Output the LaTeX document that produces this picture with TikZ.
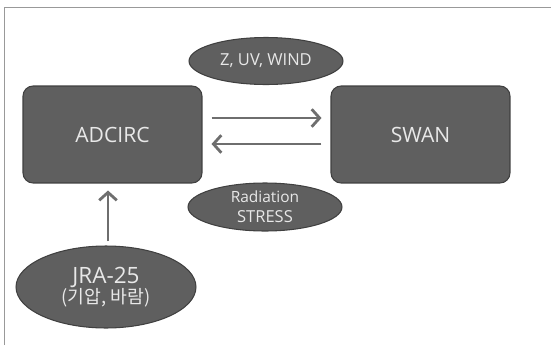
\documentclass[tikz,border=0pt]{standalone}
\usepackage{fontspec}
\setmainfont{Open Sans}
\newfontfamily\krfont{Noto Sans CJK KR}
\usetikzlibrary{shapes.geometric,arrows.meta}
\definecolor{boxgray}{HTML}{5F5F5F}
\definecolor{edgegray}{HTML}{404040}
\definecolor{textgray}{HTML}{E8E8E8}
\definecolor{arrowgray}{HTML}{6E6E6E}
\begin{document}
\begin{tikzpicture}[x=0.02cm,y=-0.02cm,
        model/.style={draw=edgegray,line width=0.6pt,fill=boxgray,rounded corners=0.2cm,
            minimum width=3.58cm,minimum height=1.94cm,text=textgray,font=\fontsize{12}{14}\selectfont},
        data/.style={ellipse,draw=edgegray,line width=0.6pt,fill=boxgray,inner sep=0pt,
            text=textgray,align=center,font=\fontsize{9.4}{11.5}\selectfont},
        flow/.style={arrowgray,line width=1.6pt,-{Straight Barb[length=4.5pt,width=10pt]}}]
        \useasboundingbox (0,0) rectangle (551,345);
        \draw[gray!80,line width=0.5pt] (4,345) -- (4,7) -- (551,7);

        \node[model] (adcirc) at (112.5,134.5) {ADCIRC};
        \node[model] (swan) at (420.5,134.5) {SWAN};
        \node[data,minimum width=3.08cm,minimum height=0.94cm] (zuv) at (266,61) {Z, UV, WIND};
        \node[data,minimum width=3.08cm,minimum height=0.96cm] (rad) at (265,207) {\fontsize{8.8}{11.5}\selectfont Radiation\\STRESS};
        \node[data,minimum width=3.6cm,minimum height=1.64cm] (jra) at (106,287) {
            \fontsize{12.8}{17}\selectfont JRA-25\\
            {\krfont\fontsize{10.4}{12}\selectfont (기압, 바람)}
            };

        \draw[flow,shorten <=0.18cm,shorten >=0.18cm] ([yshift=0.33cm]adcirc.east) -- ([yshift=0.33cm]swan.west);
        \draw[flow,shorten <=0.18cm,shorten >=0.18cm] ([yshift=-0.19cm]swan.west) -- ([yshift=-0.19cm]adcirc.east);
        \draw[flow,shorten <=0.08cm,shorten >=0.14cm] ([xshift=0.04cm]jra.north) -- ([xshift=0.04cm]jra.north |- adcirc.south);
    \end{tikzpicture}
\end{document}
